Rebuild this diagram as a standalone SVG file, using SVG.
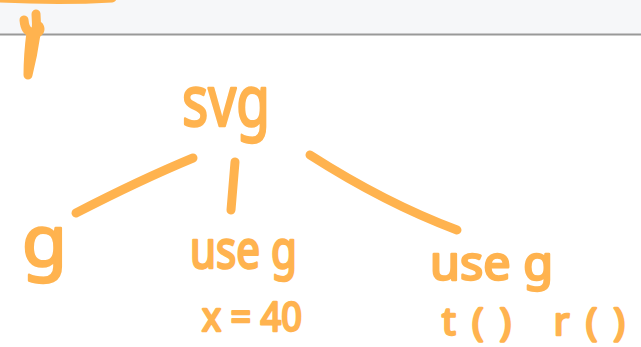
<svg xmlns="http://www.w3.org/2000/svg" width="641" height="347" viewBox="0 0 641 347">
  <style>
    .ink { fill: #ffb34f; stroke: #ffb34f; stroke-width: 2.5; stroke-linejoin: round; font-family: "Noto Sans", "DejaVu Sans", sans-serif; }
    .stroke { fill: none; stroke: #ffb34f; stroke-width: 9; stroke-linecap: round; stroke-linejoin: round; }
  </style>

  <!-- toolbar strip at the top of the canvas -->
  <rect x="0" y="0" width="641" height="34" fill="#f6f7f9"/>
  <line x1="0" y1="34.5" x2="641" y2="34.5" stroke="#999999" stroke-width="2"/>

  <!-- stray pen marks -->
  <g id="marks">
    <path class="stroke" d="M0,-2 Q60,1 112,-2"/>
    <path class="stroke" d="M24,20 Q25,31 31,32 Q28,55 28,75 Q33,55 36,34 Q42,31 39,26 M36,14 Q37,24 36,34"/>
  </g>

  <!-- tree edges -->
  <g id="connectors">
    <path class="stroke" d="M193,158 Q140,180 76,213"/>
    <path class="stroke" d="M235,162 L231,210"/>
    <path class="stroke" d="M310,155 Q385,203 457,230"/>
  </g>

  <g id="node-svg">
    <text class="ink" x="182" y="126" font-size="72" textLength="88" lengthAdjust="spacingAndGlyphs">svg</text>
  </g>

  <g id="node-g">
    <text class="ink" x="22" y="266" font-size="72" textLength="45" lengthAdjust="spacingAndGlyphs">g</text>
  </g>

  <g id="node-use-1">
    <text class="ink" x="190" y="268" font-size="52" textLength="107" lengthAdjust="spacingAndGlyphs">use g</text>
    <text class="ink" x="202" y="331" font-size="40" textLength="100" lengthAdjust="spacingAndGlyphs">x = 40</text>
  </g>

  <g id="node-use-2">
    <text class="ink" x="430" y="280" font-size="48" textLength="123" lengthAdjust="spacingAndGlyphs">use g</text>
    <text class="ink" x="442" y="335" font-size="38" textLength="183" lengthAdjust="spacing">t() r()</text>
  </g>
</svg>
